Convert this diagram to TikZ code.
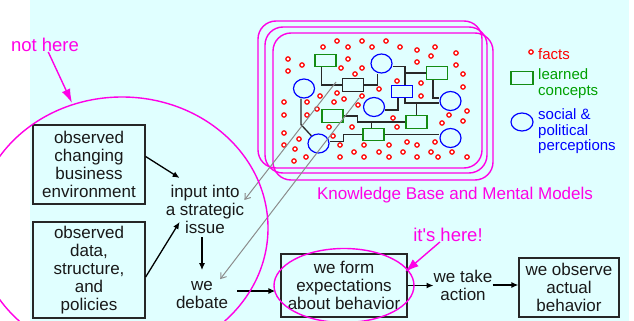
\documentclass[tikz,border=0pt]{standalone}
\usepackage{fontspec}
\setmainfont{Liberation Sans}
\usepackage{tikz}
\usetikzlibrary{arrows.meta,shapes.geometric}
\definecolor{kbmag}{RGB}{255,0,230}
\definecolor{bgcyan}{RGB}{224,255,255}
\definecolor{factred}{RGB}{255,0,0}
\definecolor{conceptgreen}{RGB}{20,140,20}
\definecolor{legendgreen}{RGB}{0,160,0}
\definecolor{percblue}{RGB}{0,0,255}
\definecolor{linkgray}{RGB}{40,40,40}
\definecolor{arrowgray}{RGB}{140,140,140}

\begin{document}
\begin{tikzpicture}[x=1pt,y=-1pt,
  every node/.style={font=\fontsize{17}{18}\selectfont,text=black!90},
  box/.style={draw=black!85,line width=1.3pt,align=center,inner sep=0pt},
  txt/.style={align=center,inner sep=0pt},
  arr/.style={line width=1.3pt,-{Latex[length=7pt,width=6pt]}},
  mag/.style={draw=kbmag,line width=1.4pt},
  magarr/.style={kbmag,line width=1.4pt,-{Latex[length=14pt,width=9pt]}},
  magtext/.style={text=kbmag,inner sep=0pt,font=\fontsize{18.5}{20}\selectfont},
  fact/.style={draw=factred,fill=white,line width=1.2pt},
  concept/.style={rectangle,draw=conceptgreen,line width=1.2pt,minimum width=21pt,minimum height=12.5pt,inner sep=0pt},
  idea/.style={rectangle,draw=black!85,line width=1.2pt,minimum width=21pt,minimum height=12.5pt,inner sep=0pt},
  rule/.style={rectangle,draw=percblue,line width=1.2pt,minimum width=21pt,minimum height=12.5pt,inner sep=0pt},
  percep/.style={ellipse,draw=percblue,line width=1.2pt,minimum width=21pt,minimum height=19pt,inner sep=0pt},
  link/.style={draw=linkgray,line width=1.3pt},
  feed/.style={draw=arrowgray,line width=1pt,-{Straight Barb[length=5pt,width=7pt]}},
  legend/.style={anchor=west,align=left,inner sep=0pt,font=\fontsize{15}{15.5}\selectfont}]
\useasboundingbox (0,0) rectangle (634,321);
\fill[bgcyan] (30,0) rectangle (629,321);

\draw[mag,rounded corners=18pt] (258,21) rectangle (482,168);
\draw[mag,rounded corners=18pt] (265,27) rectangle (487,173);
\draw[mag,rounded corners=18pt] (273,33) rectangle (493,180);

\foreach \x/\y in {337/41,362/41,386/41,323/47,348/47,372/47,400/47,435/47,417/50,456/53,
  431/56,288/59,348/59,417/62,302/65,456/65,341/68,362/68,288/71,355/74,463/74,
  397/81,421/83,463/87,379/89,337/93,320/96,421/96,344/99,362/96,284/102,307/102,
  334/102,358/105,317/109,467/111,284/115,307/115,449/115,393/118,463/121,442/123,
  329/127,352/127,397/127,284/133,333/136,299/139,407/142,435/142,284/145,340/145,
  364/145,389/145,417/145,295/149,354/152,379/152,403/152,431/152,452/152,306/157,
  340/157,364/157,389/157,417/157,438/157,467/157,294/161}
  \draw[fact] (\x,\y) circle (2.2pt);

\node[concept] (g1) at (325.5,60.5) {};
\node[idea] (k1) at (353,85) {};
\node[percep] (c1) at (381.5,63.5) {};
\node[concept] (g2) at (437,73) {};
\node[percep] (c2) at (304,88.5) {};
\node[rule] (b1) at (402,91.5) {};
\node[percep] (c3) at (450.5,101) {};
\node[percep] (c4) at (374,107) {};
\node[concept] (g3) at (332.5,116) {};
\node[concept] (g4) at (416.5,122) {};
\node[concept] (g5) at (373.5,134.5) {};
\node[percep] (c5) at (318.5,143.5) {};
\node[percep] (c6) at (450.5,138) {};

\draw[link] ([xshift=-4pt]g1.south) |- (k1.west);
\draw[link] (k1.east) -| ([xshift=-4pt]c1.south);
\draw[link] ([yshift=-3pt]c1.east) -| ([xshift=3pt]b1.north);
\draw[link] ([xshift=3pt]b1.north |- g2.west) -- (g2.west);
\draw[link] ([xshift=-4pt]g2.south) |- ([yshift=3pt]c3.west);
\draw[link] ([xshift=3pt]b1.south) |- ([yshift=-2pt]c3.west);
\draw[link] (g4.north) -- ++(0,-13);
\draw[link] ([xshift=-4pt]b1.south) |- ([yshift=-3pt]c4.east);
\draw[link] ([xshift=-3pt]c2.south) -- ++(0,26) -- (c5);
\draw[link] (g3.east) -- ++(14,0) |- (g4.west);
\draw[link] ([xshift=-2pt]g5.north) -- ++(0,-6);
\draw[link] ([yshift=2pt]c5.east) -- ++(14,0) |- (g5.west);
\draw[link] (g5.east) -- (g5.east -| c6.west);

\draw[fact] (531,52) circle (2.2pt);
\node[legend,text=factred] (lgfacts) at (538,54) {facts};
\node[concept,minimum width=22pt] (lgc) at (522,78) {};
\node[legend,text=legendgreen] (lgconc) at (538,83.5) {learned\\concepts};
\node[percep,minimum width=22pt,minimum height=18pt] (lgp) at (522,122) {};
\node[legend,text=percblue] (lgperc) at (538,131.5) {social \&\\political\\perceptions};

\node[text=kbmag,inner sep=0pt] (kbm) at (455,195) {Knowledge Base and Mental Models};

\node[box,minimum width=112pt,minimum height=79pt] (env) at (89,164.5) {observed\\changing\\business\\environment};
\node[box,minimum width=112pt,minimum height=96pt] (data) at (89,270) {observed\\data,\\structure,\\and\\policies};
\node[txt] (input) at (205,209) {input into\\a strategic\\issue};
\node[txt] (debate) at (202,295) {we\\debate};
\node[box,minimum width=126pt,minimum height=63pt] (expect) at (344,285.5) {we form\\expectations\\about behavior};
\node[txt] (act) at (463,285) {we take\\action};
\node[box,minimum width=100pt,minimum height=59pt] (observe) at (569,287.5) {we observe\\actual\\behavior};

\draw[arr] ([yshift=8pt]env.east) -- ([xshift=14pt,yshift=31pt]input.west);
\draw[arr] ([yshift=-7pt]data.east) -- ([xshift=14pt,yshift=-13pt]input.west);
\draw[arr,shorten <=4pt,shorten >=11pt] (debate.north |- input.south) -- (debate.north);
\coordinate (dbt) at ([yshift=4pt]debate.east);
\draw[arr,shorten <=9pt,shorten >=5pt] (dbt) -- (dbt -| expect.west);
\draw[arr] (expect.east) -- (expect.east -| act.west);
\draw[arr] (act.east) -- (act.east -| observe.west);

\coordinate (kb1) at (336,82);
\coordinate (kb2) at (359,98);
\draw[feed] (kb1) -- ([yshift=9pt]input.east);
\draw[feed] (kb2) -- ([xshift=-8pt,yshift=2pt]debate.north east);

\draw[mag] (122,228) ellipse [x radius=146pt,y radius=131pt];
\draw[mag] (expect.center) ellipse [x radius=70pt,y radius=37pt];

\node[magtext] (nothere) at (45,45) {not here};
\coordinate (circtop) at (72,103);
\draw[magarr] (nothere) -- (circtop);
\node[magtext] (here) at (448,235) {it\textquotesingle s here!};
\coordinate (ellrim) at (405,272);
\draw[magarr] (here) -- (ellrim);
\end{tikzpicture}
\end{document}
